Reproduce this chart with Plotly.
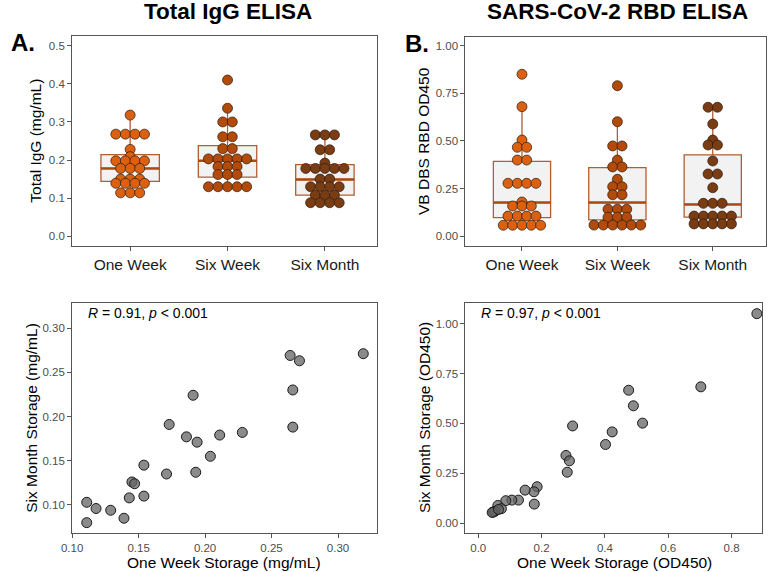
import plotly.graph_objects as go

# ---------------- data ----------------
categories = ["One Week", "Six Week", "Six Month"]

# Panel A (Total IgG, mg/mL) - dot values as read (binned dot centres)
igg_one_week = [0.318, 0.268, 0.268, 0.268, 0.268, 0.228, 0.209, 0.198, 0.198, 0.198, 0.198,
                0.178, 0.178, 0.178, 0.150, 0.150, 0.150, 0.139, 0.139, 0.139, 0.139,
                0.114, 0.114, 0.114]
igg_six_week = [0.410, 0.336, 0.300, 0.300, 0.261, 0.261, 0.230, 0.230,
                0.203, 0.203, 0.203, 0.203, 0.203, 0.183, 0.183, 0.183,
                0.162, 0.162, 0.162, 0.130, 0.130, 0.130, 0.130, 0.130]
igg_six_month = [0.266, 0.266, 0.266, 0.227, 0.227, 0.192, 0.178, 0.178, 0.178, 0.178, 0.178,
                 0.150, 0.150, 0.130, 0.130, 0.130, 0.130, 0.108, 0.108, 0.108,
                 0.088, 0.088, 0.088, 0.088]
igg_q1 = [0.144, 0.155, 0.108]
igg_median = [0.178, 0.198, 0.149]
igg_q3 = [0.214, 0.238, 0.188]
igg_low = [0.114, 0.130, 0.088]
igg_high = [0.318, 0.336, 0.266]

# Panel B (RBD OD450)
rbd_one_week = [0.850, 0.680, 0.505, 0.467, 0.467, 0.400, 0.400,
                0.278, 0.278, 0.278, 0.278, 0.180, 0.159, 0.159, 0.159,
                0.106, 0.106, 0.106, 0.106, 0.058, 0.058, 0.058, 0.058, 0.058]
rbd_six_week = [0.790, 0.601, 0.474, 0.474, 0.400, 0.364, 0.364, 0.299, 0.260, 0.260,
                0.218, 0.218, 0.142, 0.142, 0.142, 0.100, 0.100, 0.100,
                0.059, 0.059, 0.059, 0.059, 0.059, 0.059]
rbd_six_month = [0.677, 0.677, 0.589, 0.505, 0.479, 0.479, 0.395, 0.327, 0.327, 0.255,
                 0.173, 0.173, 0.173, 0.106, 0.106, 0.106, 0.106, 0.106,
                 0.065, 0.065, 0.065, 0.065, 0.065]
rbd_q1 = [0.098, 0.086, 0.101]
rbd_median = [0.177, 0.177, 0.167]
rbd_q3 = [0.393, 0.360, 0.427]
rbd_low = [0.058, 0.059, 0.065]
rbd_high = [0.680, 0.601, 0.677]

# Bottom-left scatter (mg/mL)
igg_week_x = [0.111, 0.111, 0.118, 0.129, 0.139, 0.143, 0.145, 0.147, 0.154, 0.154, 0.171, 0.173,
              0.186, 0.191, 0.194, 0.193, 0.204, 0.211, 0.228, 0.264, 0.271, 0.266, 0.266, 0.319]
igg_month_y = [0.103, 0.080, 0.096, 0.094, 0.085, 0.108, 0.126, 0.124, 0.145, 0.110, 0.135, 0.191,
               0.177, 0.224, 0.171, 0.137, 0.155, 0.179, 0.182, 0.269, 0.263, 0.230, 0.188, 0.271]

# Bottom-right scatter (OD450)
rbd_week_x = [0.880, 0.703, 0.475, 0.490, 0.519, 0.298, 0.423, 0.402, 0.277, 0.288, 0.281, 0.186,
              0.176, 0.148, 0.177, 0.127, 0.106, 0.087, 0.062, 0.073, 0.047, 0.052, 0.044, 0.064]
rbd_month_y = [1.050, 0.683, 0.666, 0.588, 0.501, 0.487, 0.457, 0.394, 0.339, 0.312, 0.255, 0.182,
               0.157, 0.165, 0.095, 0.115, 0.115, 0.112, 0.088, 0.072, 0.055, 0.058, 0.053, 0.068]

dot_colors = ["#DB6111", "#B24B09", "#7A3C13"]
box_line = "#B35C2E"
median_col = "#A94A14"
box_fill = "#F2F2F2"
FONT = "Liberation Sans, Arial, Helvetica, sans-serif"

W, H = 771, 572


def fx(p):
    return p / W


def fy(p):
    return 1 - p / H


def swarm(values, center, step=0.098):
    counts, order = {}, []
    for v in values:
        if v not in counts:
            counts[v] = 0
            order.append(v)
        counts[v] += 1
    xs, ys = [], []
    for v in order:
        n = counts[v]
        for k in range(n):
            xs.append(center + (k - (n - 1) / 2) * step)
            ys.append(v)
    return xs, ys


fig = go.Figure()


def add_dot_panel(groups, q1, med, q3, lo, hi, xa, ya):
    for i in range(3):
        fig.add_trace(go.Box(x=[i], q1=[q1[i]], median=[med[i]], q3=[q3[i]],
                             lowerfence=[lo[i]], upperfence=[hi[i]], width=0.6,
                             whiskerwidth=0, fillcolor=box_fill, boxpoints=False,
                             line=dict(color=box_line, width=1.3),
                             xaxis=xa, yaxis=ya, showlegend=False, hoverinfo="skip"))
        fig.add_trace(go.Scatter(x=[i - 0.3, i + 0.3], y=[med[i], med[i]], mode="lines",
                                 line=dict(color=median_col, width=2.6),
                                 xaxis=xa, yaxis=ya, showlegend=False, hoverinfo="skip"))
    for i, vals in enumerate(groups):
        xs, ys = swarm(vals, i)
        fig.add_trace(go.Scatter(x=xs, y=ys, mode="markers",
                                 marker=dict(size=10, color=dot_colors[i],
                                             line=dict(color="#2a1a10", width=0.7)),
                                 xaxis=xa, yaxis=ya, showlegend=False))


add_dot_panel([igg_one_week, igg_six_week, igg_six_month], igg_q1, igg_median, igg_q3,
              igg_low, igg_high, "x", "y")
add_dot_panel([rbd_one_week, rbd_six_week, rbd_six_month], rbd_q1, rbd_median, rbd_q3,
              rbd_low, rbd_high, "x2", "y2")

scatter_marker = dict(size=10, color="rgba(100,100,100,0.75)", line=dict(color="#1a1a1a", width=1))
fig.add_trace(go.Scatter(x=igg_week_x, y=igg_month_y, mode="markers", marker=scatter_marker,
                         xaxis="x3", yaxis="y3", showlegend=False))
fig.add_trace(go.Scatter(x=rbd_week_x, y=rbd_month_y, mode="markers", marker=scatter_marker,
                         xaxis="x4", yaxis="y4", showlegend=False))

axis_common = dict(showline=True, mirror=True, linecolor="#555555", linewidth=1,
                   ticks="outside", ticklen=4, tickcolor="#555555", showgrid=False,
                   zeroline=False, tickfont=dict(family=FONT, size=11.5, color="#4D4D4D"))
cat_font = dict(family=FONT, size=15.5, color="#1a1a1a")

fig.update_layout(
    width=W, height=H, margin=dict(l=0, r=0, t=0, b=0),
    paper_bgcolor="white", plot_bgcolor="white", showlegend=False,
    font=dict(family=FONT),
    xaxis=dict(axis_common, domain=[fx(62), fx(371)], range=[-0.596, 2.532], anchor="y",
               tickvals=[0, 1, 2], ticktext=categories, tickfont=cat_font),
    yaxis=dict(axis_common, domain=[fy(246), fy(36)], range=[-0.0255, 0.5255], anchor="x",
               tickvals=[0, 0.1, 0.2, 0.3, 0.4, 0.5], tickformat=".1f"),
    xaxis2=dict(axis_common, domain=[fx(461), fx(766)], range=[-0.593, 2.559], anchor="y2",
                tickvals=[0, 1, 2], ticktext=categories, tickfont=cat_font),
    yaxis2=dict(axis_common, domain=[fy(246), fy(37)], range=[-0.0509, 1.0456], anchor="x2",
                tickvals=[0, 0.25, 0.5, 0.75, 1.0], tickformat=".2f"),
    xaxis3=dict(axis_common, domain=[fx(62), fx(371)], range=[0.10, 0.3291], anchor="y3",
                tickvals=[0.10, 0.15, 0.20, 0.25, 0.30], tickformat=".2f"),
    yaxis3=dict(axis_common, domain=[fy(533), fy(303)], range=[0.0683, 0.3283], anchor="x3",
                tickvals=[0.10, 0.15, 0.20, 0.25, 0.30], tickformat=".2f"),
    xaxis4=dict(axis_common, domain=[fx(461), fx(762)], range=[-0.0405, 0.8966], anchor="y4",
                tickvals=[0, 0.2, 0.4, 0.6, 0.8], tickformat=".1f"),
    yaxis4=dict(axis_common, domain=[fy(533), fy(303)], range=[-0.050, 1.1035], anchor="x4",
                tickvals=[0, 0.25, 0.5, 0.75, 1.0], tickformat=".2f"),
)

ann = []
title_font = dict(family=FONT, size=22.5, color="black")
ann.append(dict(text="<b>Total IgG ELISA</b>", x=fx(220), y=fy(12), font=title_font))
ann.append(dict(text="<b>SARS-CoV-2 RBD ELISA</b>", x=fx(615), y=fy(12), font=title_font))
ann.append(dict(text="<b>A.</b>", x=fx(12), y=fy(42), font=dict(family=FONT, size=24, color="black")))
ann.append(dict(text="<b>B.</b>", x=fx(412), y=fy(43), font=dict(family=FONT, size=24, color="black")))
axt = dict(family=FONT, size=15.5, color="black")
ann.append(dict(text="Total IgG (mg/mL)", x=fx(25), y=fy(141), textangle=-90, font=axt))
ann.append(dict(text="VB DBS RBD OD450", x=fx(419), y=fy(141), textangle=-90, font=axt))
ann.append(dict(text="Six Month Storage (mg/mL)", x=fx(20), y=fy(418), textangle=-90, font=axt))
ann.append(dict(text="Six Month Storage (OD450)", x=fx(419), y=fy(418), textangle=-90, font=axt))
ann.append(dict(text="One Week Storage (mg/mL)", x=fx(216), y=fy(562), font=axt))
ann.append(dict(text="One Week Storage (OD450)", x=fx(612), y=fy(562), font=axt))
rfont = dict(family=FONT, size=14, color="black")
ann.append(dict(text="<i>R</i> = 0.91, <i>p</i> &lt; 0.001", x=fx(76), y=fy(313), xanchor="left", font=rfont))
ann.append(dict(text="<i>R</i> = 0.97, <i>p</i> &lt; 0.001", x=fx(475), y=fy(313), xanchor="left", font=rfont))

for a in ann:
    a.setdefault("xanchor", "center")
    a.update(xref="paper", yref="paper", yanchor="middle", showarrow=False)
fig.update_layout(annotations=ann)

fig.write_html("out.html", config={"displayModeBar": False},
               post_script="document.body.style.margin='0px';"
                           "document.documentElement.style.overflow='hidden';")
